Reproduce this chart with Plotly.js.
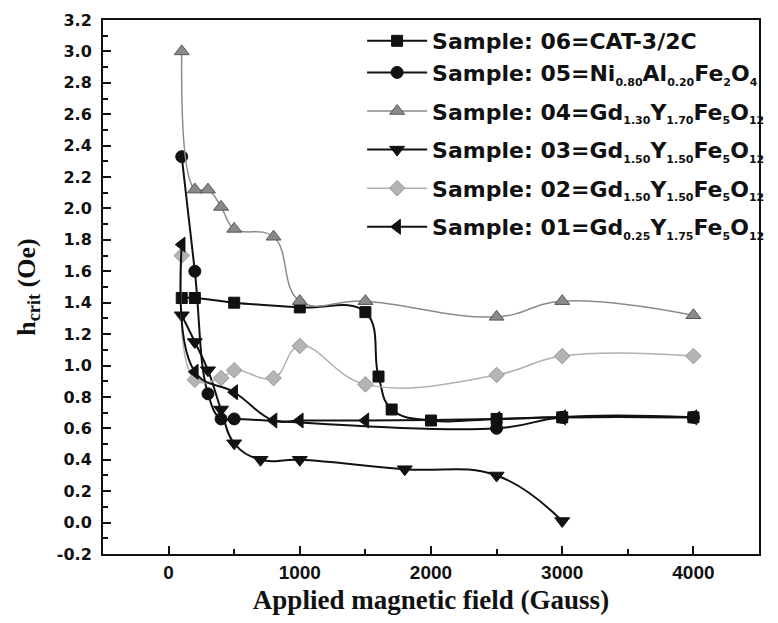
<!DOCTYPE html>
<html>
<head>
<meta charset="utf-8">
<script src="https://cdn.plot.ly/plotly-3.0.1.min.js"></script>
<style>html,body{margin:0;padding:0;background:#fff;}#chart{width:778px;height:623px;}</style>
</head>
<body>
<div id="chart"></div>
<script>
// Sample 06 = CAT-3/2C (squares)
const x06 = [100, 200, 500, 1000, 1500, 1600, 1700, 2000, 2500, 3000, 4000];
const y06 = [1.43, 1.43, 1.40, 1.37, 1.34, 0.93, 0.72, 0.65, 0.66, 0.67, 0.67];
// Sample 05 (circles)
const x05 = [100, 200, 300, 400, 500, 2500, 3000, 4000];
const y05 = [2.33, 1.60, 0.82, 0.66, 0.66, 0.60, 0.67, 0.67];
// Sample 04 (up triangles)
const x04 = [100, 200, 300, 400, 500, 800, 1000, 1500, 2500, 3000, 4000];
const y04 = [3.00, 2.12, 2.12, 2.01, 1.87, 1.82, 1.41, 1.41, 1.31, 1.41, 1.32];
// Sample 03 (down triangles)
const x03 = [100, 200, 300, 400, 500, 700, 1000, 1800, 2500, 3000];
const y03 = [1.32, 1.15, 0.97, 0.72, 0.505, 0.40, 0.40, 0.34, 0.30, 0.01];
// Sample 02 (diamonds)
const x02 = [100, 200, 400, 500, 800, 1000, 1500, 2500, 3000, 4000];
const y02 = [1.70, 0.91, 0.92, 0.97, 0.92, 1.125, 0.88, 0.94, 1.06, 1.06];
// Sample 01 (left triangles)
const x01 = [100, 200, 500, 800, 1000, 1500, 2500, 3000, 4000];
const y01 = [1.77, 0.96, 0.83, 0.65, 0.65, 0.65, 0.66, 0.67, 0.67];

function s(t) { return '<sub><span style="font-size:11px">' + t + '</span></sub>'; }
const names = [
  'Sample: 06=CAT-3/2C',
  'Sample: 05=Ni' + s('0.80') + 'Al' + s('0.20') + 'Fe' + s('2') + 'O' + s('4'),
  'Sample: 04=Gd' + s('1.30') + 'Y' + s('1.70') + 'Fe' + s('5') + 'O' + s('12'),
  'Sample: 03=Gd' + s('1.50') + 'Y' + s('1.50') + 'Fe' + s('5') + 'O' + s('12'),
  'Sample: 02=Gd' + s('1.50') + 'Y' + s('1.50') + 'Fe' + s('5') + 'O' + s('12'),
  'Sample: 01=Gd' + s('0.25') + 'Y' + s('1.75') + 'Fe' + s('5') + 'O' + s('12')
];
const groups = ['a', 'a', 'b', 'c', 'd', 'e'];

function tr(i, x, y, sym, size, color, lcolor, lw, mline) {
  return {
    x: x, y: y, name: names[i], legendgroup: groups[i], type: 'scatter', mode: 'lines+markers',
    line: {shape: 'spline', smoothing: 1.2, color: lcolor, width: lw},
    marker: {symbol: sym, size: size, color: color, line: {color: mline, width: 1}}
  };
}

const data = [
  tr(0, x06, y06, 'square', 11, '#111', '#111', 2, '#111'),
  tr(1, x05, y05, 'circle', 12, '#111', '#111', 2, '#111'),
  tr(2, x04, y04, 'triangle-up', 13, '#8a8a8a', '#8a8a8a', 1.5, '#555'),
  tr(3, x03, y03, 'triangle-down', 13, '#111', '#111', 2, '#111'),
  tr(4, x02, y02, 'diamond', 12, '#b4b4b4', '#b0b0b0', 1.5, '#999'),
  tr(5, x01, y01, 'triangle-left', 13, '#111', '#111', 2, '#111')
];

const layout = {
  width: 778, height: 623,
  margin: {l: 103, r: 19, t: 20, b: 69, autoexpand: false},
  paper_bgcolor: '#fff', plot_bgcolor: '#fff',
  showlegend: true,
  legend: {
    x: 0.395, y: 1.0, xanchor: 'left', yanchor: 'top',
    bgcolor: 'rgba(0,0,0,0)', borderwidth: 0,
    font: {family: 'DejaVu Sans', size: 22, color: '#111', weight: 'bold'},
    itemwidth: 60, tracegroupgap: 7
  },
  xaxis: {
    range: [-500, 4500], tickvals: [0, 1000, 2000, 3000, 4000],
    ticktext: ['0', '1000', '2000', '3000', '4000'],
    ticks: 'inside', ticklen: 8, tickwidth: 2, tickcolor: '#111',
    minor: {ticks: 'inside', ticklen: 5, tickwidth: 2, tickcolor: '#111', dtick: 500, tick0: 0},
    showgrid: false, zeroline: false,
    showline: true, linewidth: 2, linecolor: '#111', mirror: true,
    tickfont: {family: 'Liberation Sans', size: 19, color: '#111', weight: 'bold'},
    title: {text: 'Applied magnetic field (Gauss)', standoff: 8,
      font: {family: 'Liberation Serif', size: 27, color: '#111', weight: 'bold'}}
  },
  yaxis: {
    range: [-0.2, 3.2], tickvals: [-0.2, 0, 0.2, 0.4, 0.6, 0.8, 1.0, 1.2, 1.4, 1.6, 1.8, 2.0, 2.2, 2.4, 2.6, 2.8, 3.0, 3.2],
    ticktext: ['-0.2', '0.0', '0.2', '0.4', '0.6', '0.8', '1.0', '1.2', '1.4', '1.6', '1.8', '2.0', '2.2', '2.4', '2.6', '2.8', '3.0', '3.2'],
    ticks: 'inside', ticklen: 8, tickwidth: 2, tickcolor: '#111',
    minor: {ticks: 'inside', ticklen: 5, tickwidth: 2, tickcolor: '#111', dtick: 0.1, tick0: 0},
    showgrid: false, zeroline: false,
    showline: true, linewidth: 2, linecolor: '#111', mirror: true,
    ticklabelstandoff: 6,
    tickfont: {family: 'DejaVu Sans', size: 16, color: '#111', weight: 'bold'},
    title: {text: 'h<sub>crit</sub> (Oe)', standoff: 14,
      font: {family: 'Liberation Serif', size: 26, color: '#111', weight: 'bold'}}
  }
};

Plotly.newPlot('chart', data, layout, {displayModeBar: false, staticPlot: true});
</script>
</body>
</html>
